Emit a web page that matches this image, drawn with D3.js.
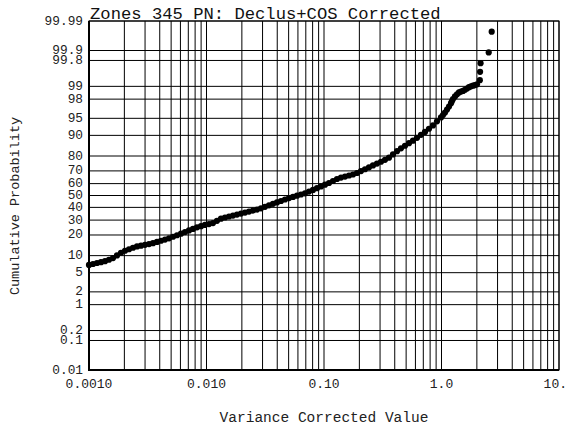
<!DOCTYPE html>
<html><head><meta charset="utf-8">
<script src="https://cdn.jsdelivr.net/npm/d3@7"></script>
<style>
html,body{margin:0;padding:0;background:#fff;}
text{font-family:"Liberation Mono","Courier New",monospace;}
</style>
</head><body><svg id="c" width="568" height="431"></svg>
<script>
const titleText = "Zones 345 PN: Declus+COS Corrected";
const xAxisLabel = "Variance Corrected Value";
const yAxisLabel = "Cumulative Probability";
const xTickValues = [0.001, 0.01, 0.1, 1, 10];
const xTickLabels = ["0.0010", "0.010", "0.10", "1.0", "10."];
const yTickValues = [0.01, 0.1, 0.2, 1, 2, 5, 10, 20, 30, 40, 50, 60, 70, 80, 90, 95, 98, 99, 99.8, 99.9, 99.99];
const yTickLabels = ["0.01", "0.1", "0.2", "1", "2", "5", "10", "20", "30", "40", "50", "60", "70", "80", "90", "95", "98", "99", "99.8", "99.9", "99.99"];

// variance corrected values
const values = [
  0.0010000, 0.0010815, 0.0011697, 0.0012651, 0.0013683, 0.0014798, 0.0016005, 0.0017310, 0.0018722, 0.0020248,
  0.0021899, 0.0023685, 0.0025616, 0.0027705, 0.0029964, 0.0032407, 0.0035050, 0.0037908, 0.0041000, 0.0044343,
  0.0047959, 0.0051870, 0.0056100, 0.0060675, 0.0065622, 0.0070973, 0.0076761, 0.0083020, 0.0089790, 0.0097101,
  0.010502, 0.011358, 0.012284, 0.013286, 0.014369, 0.015541, 0.016808, 0.018179, 0.019661, 0.021265,
  0.022998, 0.024874, 0.026902, 0.029096, 0.031468, 0.034034, 0.036809, 0.039811, 0.043057, 0.046568,
  0.050365, 0.054472, 0.058913, 0.063717, 0.068913, 0.074532, 0.080609, 0.087182, 0.094291,
  0.10198, 0.11030, 0.11929, 0.12902, 0.13954, 0.15091, 0.16322, 0.17652, 0.19092, 0.20649,
  0.22332, 0.24153, 0.26123, 0.28253, 0.30556, 0.33048, 0.35743, 0.38658, 0.41810, 0.45219,
  0.48906, 0.52894, 0.57207, 0.61872, 0.66917, 0.72373, 0.78275, 0.84657, 0.91561, 0.99024,
  1.0298, 1.0710, 1.1139, 1.1584, 1.2047, 1.2284, 1.2527, 1.3028, 1.3550, 1.4091,
  1.4655, 1.5240, 1.5849, 1.6483, 1.7141, 1.7827, 1.8540, 1.9280, 2.0051,
  2.12, 2.13, 2.15, 2.522, 2.674
];
// cumulative probability (%)
const probabilities = [
  6.94, 7.22, 7.51, 7.78, 8.08, 8.55, 9.13, 10.07, 11.12, 11.95,
  12.61, 13.27, 13.87, 14.26, 14.65, 15.05, 15.49, 16.10, 16.75, 17.40,
  18.05, 18.96, 19.85, 20.80, 21.79, 22.82, 23.84, 24.85, 25.68, 26.50,
  27.12, 27.83, 29.44, 31.05, 31.97, 32.74, 33.43, 34.20, 34.99, 35.79,
  36.59, 37.39, 38.19, 39.26, 40.50, 41.73, 42.98, 44.16, 45.34, 46.60,
  47.79, 48.81, 49.83, 50.85, 51.87, 53.31, 54.75, 56.18, 57.69,
  59.10, 60.49, 62.13, 63.73, 64.85, 65.64, 66.49, 67.26, 68.41, 69.83,
  71.22, 72.60, 73.91, 75.22, 76.41, 77.63, 78.97, 80.92, 82.77, 84.27,
  85.54, 86.78, 87.87, 89.04, 90.20, 91.24, 92.25, 93.24, 94.30, 95.20,
  95.68, 96.14, 96.65, 97.11, 97.55, 97.79, 98.01, 98.26, 98.45, 98.60,
  98.66, 98.71, 98.79, 98.87, 98.95, 99.00, 99.04, 99.07, 99.11,
  99.30, 99.58, 99.76, 99.885, 99.976
];

function probit(p) {
  const a = [-3.969683028665376e+01, 2.209460984245205e+02, -2.759285104469687e+02, 1.383577518672690e+02, -3.066479806614716e+01, 2.506628277459239e+00];
  const b = [-5.447609879822406e+01, 1.615858368580409e+02, -1.556989798598866e+02, 6.680131188771972e+01, -1.328068155288572e+01];
  const c = [-7.784894002430293e-03, -3.223964580411365e-01, -2.400758277161838e+00, -2.549732539343734e+00, 4.374664141464968e+00, 2.938163982698783e+00];
  const d = [7.784695709041462e-03, 3.224671290700398e-01, 2.445134137142996e+00, 3.754408661907416e+00];
  const pl = 0.02425, ph = 1 - pl;
  let q, r;
  if (p < pl) {
    q = Math.sqrt(-2 * Math.log(p));
    return (((((c[0]*q+c[1])*q+c[2])*q+c[3])*q+c[4])*q+c[5]) / ((((d[0]*q+d[1])*q+d[2])*q+d[3])*q+1);
  }
  if (p <= ph) {
    q = p - 0.5; r = q * q;
    return (((((a[0]*r+a[1])*r+a[2])*r+a[3])*r+a[4])*r+a[5])*q / (((((b[0]*r+b[1])*r+b[2])*r+b[3])*r+b[4])*r+1);
  }
  q = Math.sqrt(-2 * Math.log(1 - p));
  return -(((((c[0]*q+c[1])*q+c[2])*q+c[3])*q+c[4])*q+c[5]) / ((((d[0]*q+d[1])*q+d[2])*q+d[3])*q+1);
}

const L = 89, R = 559, T = 21, B = 370, W = 568;
const svg = d3.select("#c");
svg.append("rect").attr("width", 568).attr("height", 431).attr("fill", "#fff");

const x = d3.scaleLog().domain([0.001, 10]).range([L, R]);
const zScale = d3.scaleLinear().domain([probit(0.0001), probit(0.9999)]).range([B, T]);
const y = pct => zScale(probit(pct / 100));

// vertical grid
const g = svg.append("g");
g.selectAll("line.vx").data(x.ticks()).join("line")
  .attr("x1", d => x(d)).attr("x2", d => x(d))
  .attr("y1", T).attr("y2", B)
  .attr("stroke", "#000").attr("stroke-width", 1);
// horizontal grid
g.selectAll("line.hy").data(yTickValues).join("line")
  .attr("x1", L).attr("x2", R)
  .attr("y1", d => y(d)).attr("y2", d => y(d))
  .attr("stroke", "#000").attr("stroke-width", 1);

// frame
svg.append("rect").attr("x", L).attr("y", T).attr("width", R - L).attr("height", B - T)
  .attr("fill", "none").attr("stroke", "#000").attr("stroke-width", 1);
svg.append("line").attr("x1", L).attr("x2", L).attr("y1", T).attr("y2", B + 1).attr("stroke", "#000").attr("stroke-width", 2);
svg.append("line").attr("x1", L).attr("x2", R).attr("y1", B).attr("y2", B).attr("stroke", "#000").attr("stroke-width", 2);

// y tick labels
svg.append("g").selectAll("text").data(yTickValues).join("text")
  .attr("x", L - 6).attr("y", d => y(d))
  .attr("text-anchor", "end").attr("dominant-baseline", "central")
  .attr("font-size", 12.8).attr("fill", "#222")
  .text((d, i) => yTickLabels[i]);

// x tick labels (kept inside the page at the right edge)
svg.append("g").selectAll("text").data(xTickValues).join("text")
  .attr("x", function (d, i) { return x(d); })
  .attr("y", B + 14)
  .attr("text-anchor", "middle").attr("dominant-baseline", "central")
  .attr("font-size", 13).attr("fill", "#222")
  .text((d, i) => xTickLabels[i])
  .each(function () {
    const bb = this.getBBox();
    if (bb.x + bb.width > W - 1) d3.select(this).attr("x", +d3.select(this).attr("x") - (bb.x + bb.width - (W - 1)));
  });

// title
svg.append("text").attr("x", 90).attr("y", 18.5)
  .attr("font-size", 17.2).attr("fill", "#111").text(titleText);

// axis labels
svg.append("text").attr("x", (L + R) / 2).attr("y", 418)
  .attr("text-anchor", "middle").attr("dominant-baseline", "central")
  .attr("font-size", 14.5).attr("fill", "#222").text(xAxisLabel);
svg.append("text").attr("transform", "translate(15,206) rotate(-90)")
  .attr("text-anchor", "middle").attr("dominant-baseline", "central")
  .attr("font-size", 13.5).attr("fill", "#222").text(yAxisLabel);

// points
svg.append("g").selectAll("circle").data(values.map((v, i) => [v, probabilities[i]])).join("circle")
  .attr("cx", d => x(d[0])).attr("cy", d => y(d[1]))
  .attr("r", 3.1).attr("fill", "#000");
</script>
</body></html>
